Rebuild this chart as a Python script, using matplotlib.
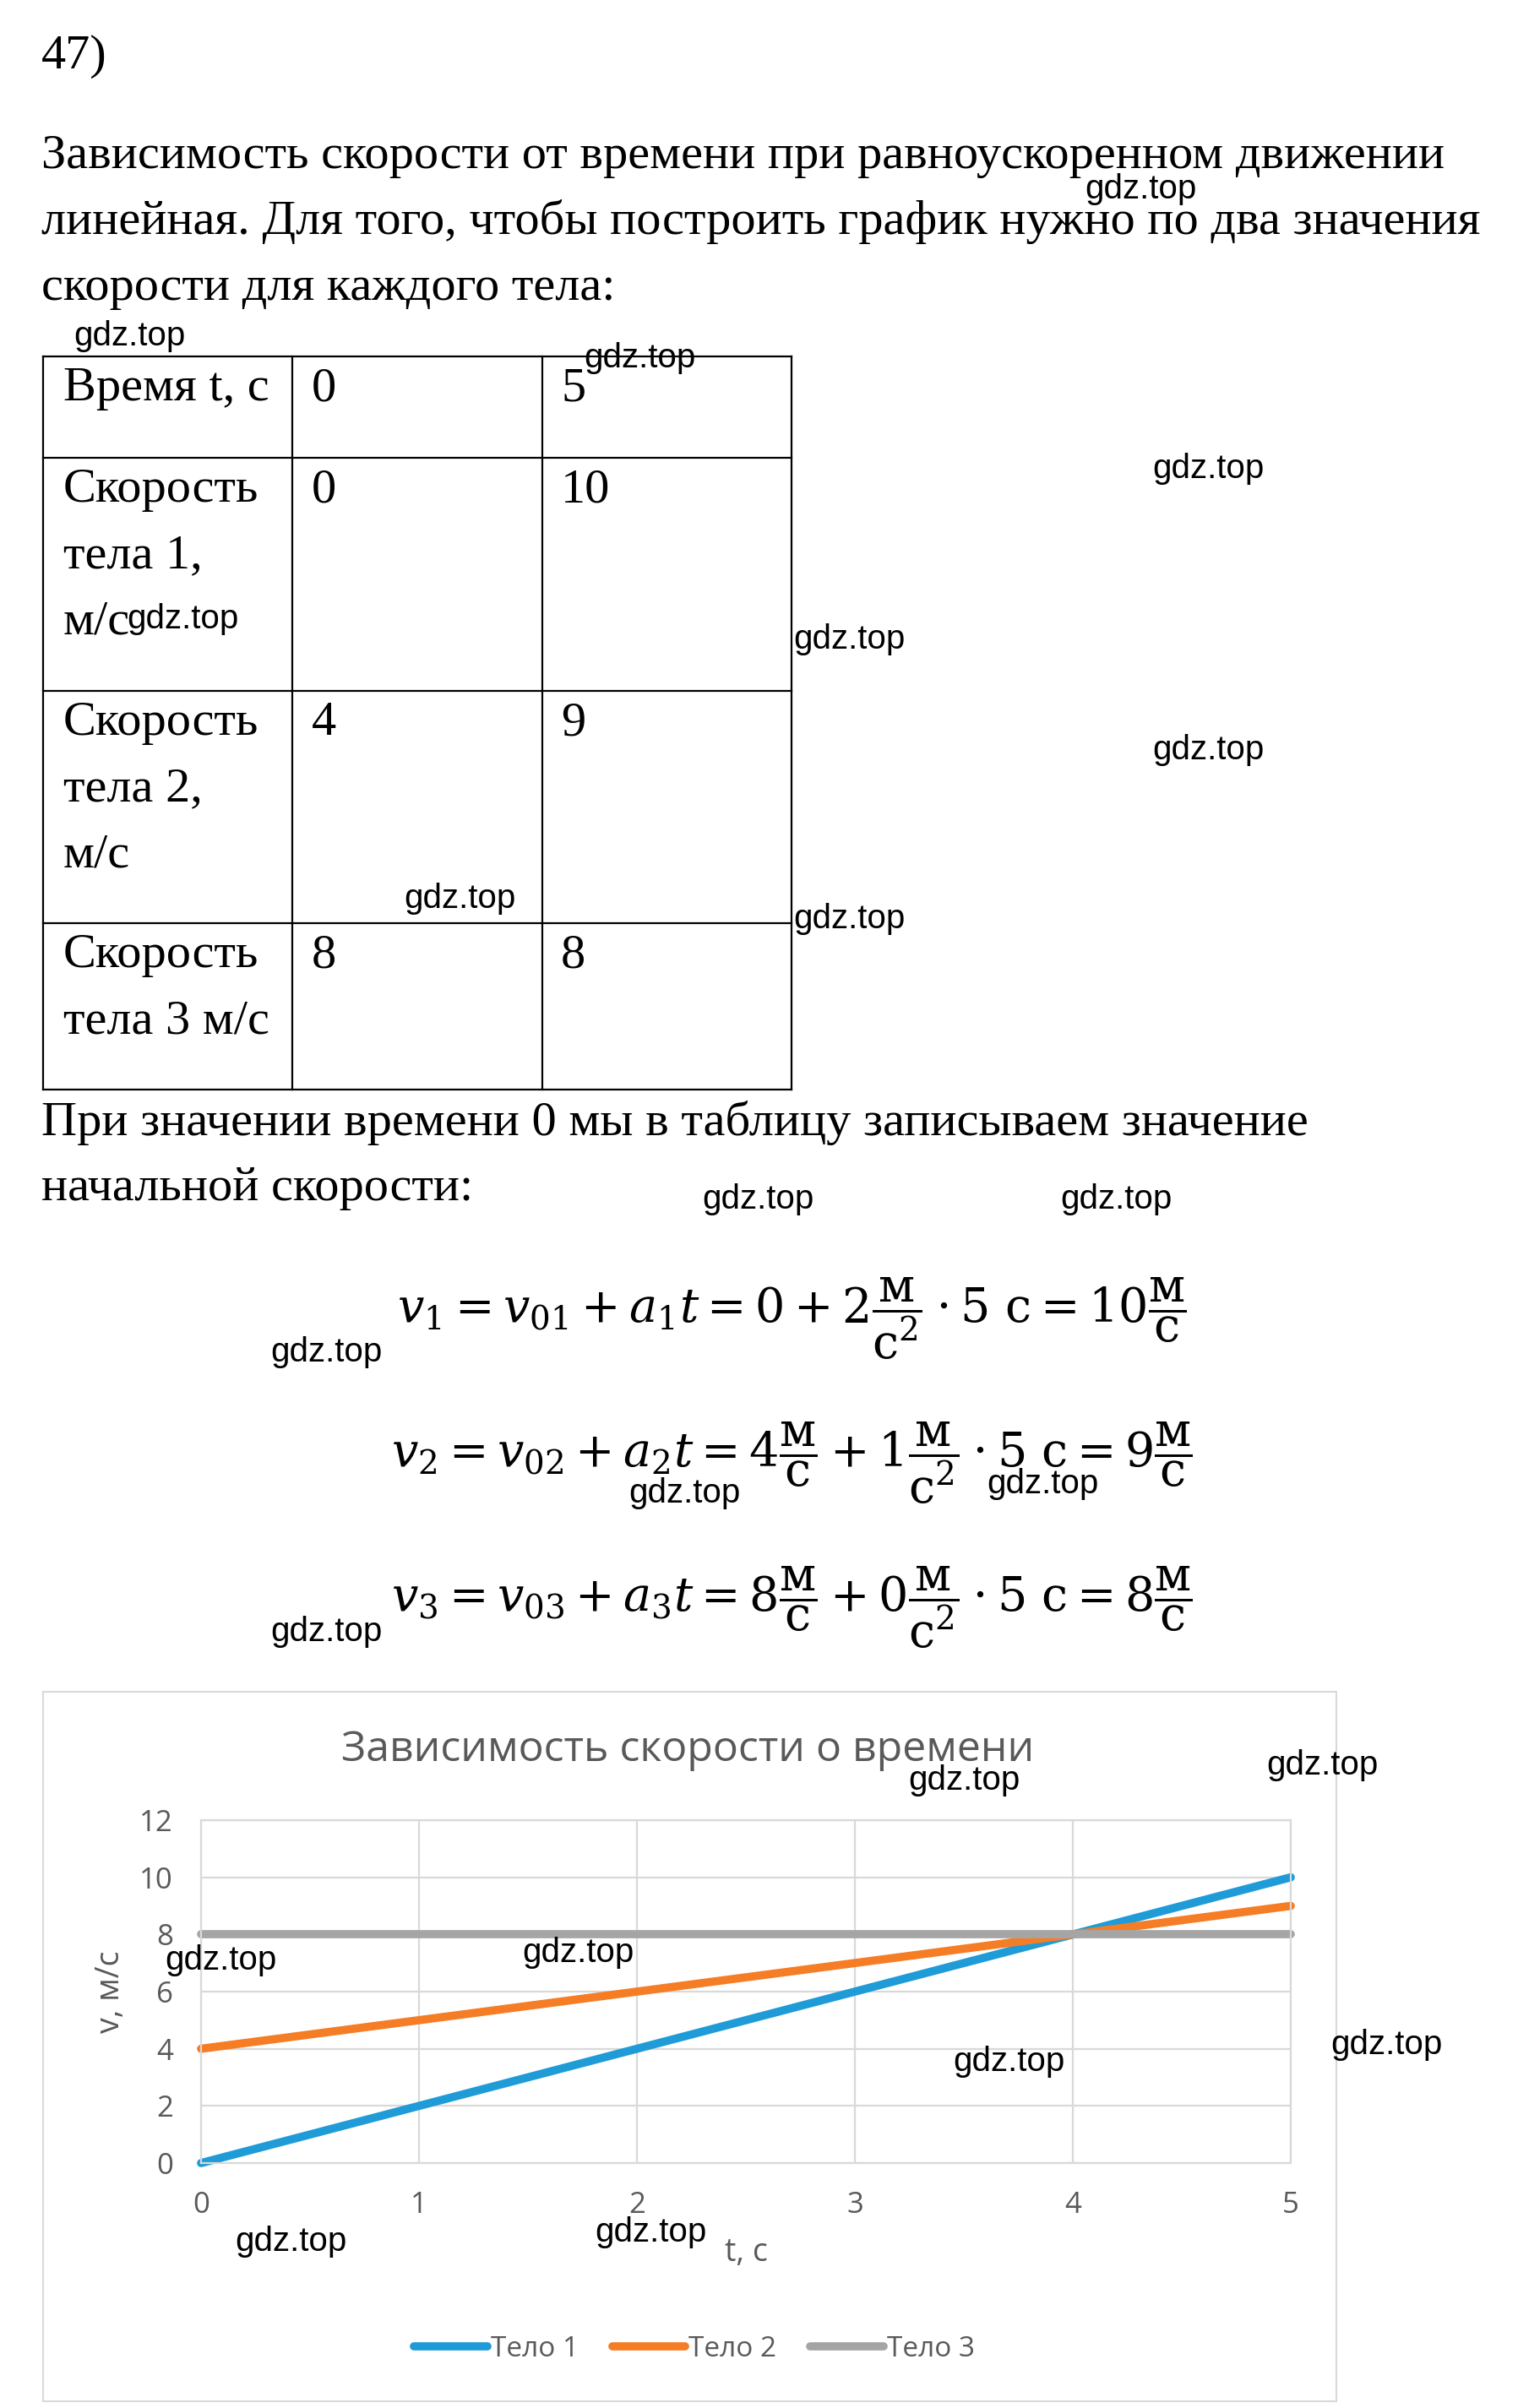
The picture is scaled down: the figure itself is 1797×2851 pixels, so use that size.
import matplotlib.pyplot as plt
from matplotlib.patches import Rectangle

W, H = 1797, 2851

# ---- data ----
time_vals = [0, 5]
v1_vals = [0, 10]
v2_vals = [4, 9]
v3_vals = [8, 8]
series_names = ['Тело 1', 'Тело 2', 'Тело 3']
series_colors = ['#1F9BD7', '#F57D25', '#A5A5A5']

intro_lines = ['Зависимость скорости от времени при равноускоренном движении',
               'линейная. Для того, чтобы построить график нужно по два значения',
               'скорости для каждого тела:']
after_lines = ['При значении времени 0 мы в таблицу записываем значение',
               'начальной скорости:']
row_labels = [['Время t, с'],
              ['Скорость', 'тела 1,', 'м/с'],
              ['Скорость', 'тела 2,', 'м/с'],
              ['Скорость', 'тела 3 м/с']]
row_values = [time_vals, v1_vals, v2_vals, v3_vals]

equations = [
    r'$v_1 = v_{01} + a_1 t = 0 + 2\dfrac{\mathrm{м}}{\mathrm{с}^2}\cdot 5\ \mathrm{с} = 10\dfrac{\mathrm{м}}{\mathrm{с}}$',
    r'$v_2 = v_{02} + a_2 t = 4\dfrac{\mathrm{м}}{\mathrm{с}} + 1\dfrac{\mathrm{м}}{\mathrm{с}^2}\cdot 5\ \mathrm{с} = 9\dfrac{\mathrm{м}}{\mathrm{с}}$',
    r'$v_3 = v_{03} + a_3 t = 8\dfrac{\mathrm{м}}{\mathrm{с}} + 0\dfrac{\mathrm{м}}{\mathrm{с}^2}\cdot 5\ \mathrm{с} = 8\dfrac{\mathrm{м}}{\mathrm{с}}$',
]

watermarks = [(1284, 224), (87, 398), (691, 424), (1364, 555), (939, 757),
              (1364, 888), (478, 1064), (939, 1088), (831, 1420), (1255, 1420),
              (320, 1601), (744, 1768), (1168, 1757), (320, 1932), (1499, 2090),
              (1075, 2108), (195, 2321), (618, 2312), (1575, 2421), (1128, 2441),
              (278, 2654), (704, 2643), (150, 733)]

plt.rcParams['mathtext.fontset'] = 'dejavuserif'
chart_font = ['Open Sans', 'DejaVu Sans']

fig = plt.figure(figsize=(W / 100, H / 100), dpi=100)

# page layer in pixel coordinates
page = fig.add_axes([0, 0, 1, 1], zorder=0)
page.set_xlim(0, W)
page.set_ylim(H, 0)
page.axis('off')

serif = dict(family='Liberation Serif', fontsize=42, color='black', va='baseline')

page.text(49, 81, '47)', **serif)
for i, line in enumerate(intro_lines):
    page.text(49, 199 + i * 78, line, **serif)

# table
col_x = [51, 346, 642, 937]
row_y = [422, 542, 818, 1093, 1290]
for x in col_x:
    page.plot([x, x], [row_y[0], row_y[-1]], color='black', lw=1.6)
for y in row_y:
    page.plot([col_x[0], col_x[-1]], [y, y], color='black', lw=1.6)
for r, (labels, vals) in enumerate(zip(row_labels, row_values)):
    base = row_y[r] + 52
    for k, lab in enumerate(labels):
        page.text(75, base + k * 78, lab, **serif)
    page.text(369, base, str(vals[0]), **serif)
    page.text(664, base, str(vals[1]), **serif)

for i, line in enumerate(after_lines):
    page.text(49, 1344 + i * 77, line, **serif)

for i, eq in enumerate(equations):
    page.text(937, 1566 + i * 171, eq, fontsize=40, ha='center', va='baseline')

# chart frame
page.add_patch(Rectangle((51, 2003), 1531, 840, fill=False, edgecolor='#D9D9D9', lw=1.5))
page.text(814, 2072, 'Зависимость скорости о времени', family=chart_font,
          fontsize=36, color='#595959', ha='center', va='center')

ax = fig.add_axes([238 / W, 1 - 2561 / H, (1528 - 238) / W, (2561 - 2155) / H], zorder=1)
for vals, name, col in zip([v1_vals, v2_vals, v3_vals], series_names, series_colors):
    ax.plot(time_vals, vals, color=col, lw=7, solid_capstyle='round', clip_on=False, label=name)
ax.set_xlim(0, 5)
ax.set_ylim(0, 12)
ax.set_xticks(range(0, 6))
ax.set_yticks(range(0, 13, 2))
ax.grid(color='#D9D9D9', lw=1.6)
ax.set_axisbelow(True)
for s in ax.spines.values():
    s.set_color('#D9D9D9')
    s.set_linewidth(1.6)
ax.tick_params(axis='both', length=0, labelsize=25, labelcolor='#595959')
ax.tick_params(axis='y', pad=24)
ax.tick_params(axis='x', pad=24)
for lab in ax.get_xticklabels() + ax.get_yticklabels():
    lab.set_family(chart_font)
ax.set_xlabel('t, с', fontsize=27, color='#595959', family=chart_font)
ax.set_ylabel('v, м/с', fontsize=27, color='#595959', family=chart_font)
ax.xaxis.set_label_coords(0.5, -0.215)
ax.yaxis.set_label_coords(-0.068, 0.5)

leg = fig.legend(loc='center', bbox_to_anchor=(822 / W, 1 - 2781 / H), ncol=3, frameon=False,
                 handlelength=2.6, handletextpad=0.12, columnspacing=1.2,
                 prop={'family': chart_font, 'size': 24})
for t in leg.get_texts():
    t.set_color('#595959')
for h in leg.get_lines():
    h.set_solid_capstyle('round')

for x, y in watermarks:
    fig.text(x / W, 1 - y / H, 'gdz.top', family='Liberation Sans', fontsize=29,
             color='black', va='center', ha='left', zorder=10)

fig.savefig('out.png', dpi=100)
